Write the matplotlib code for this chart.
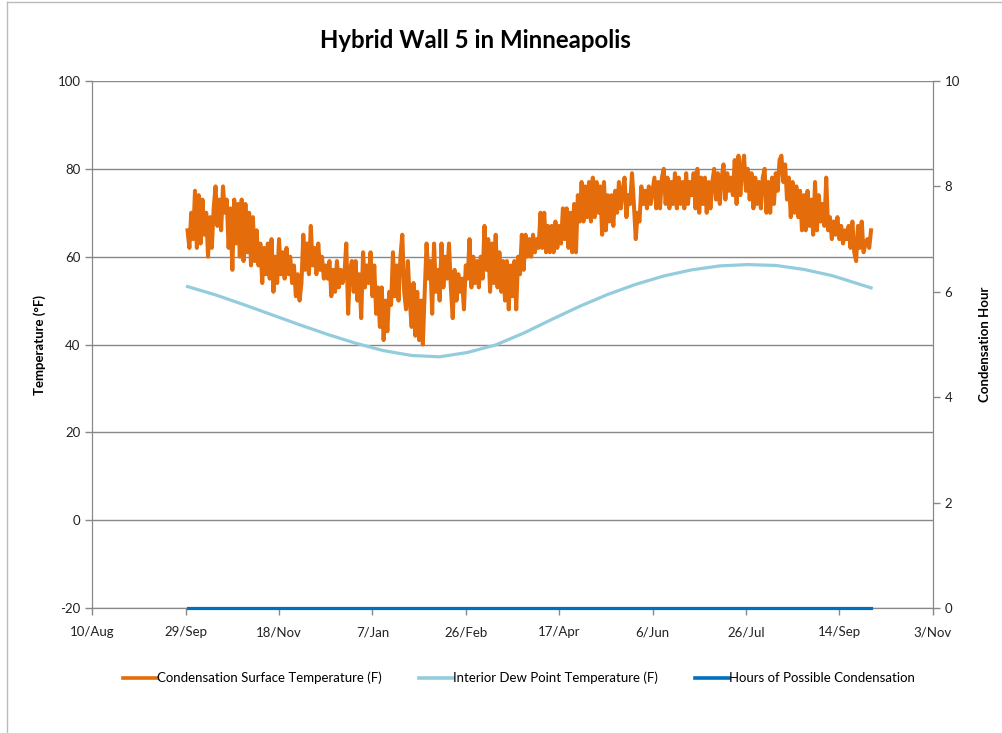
import matplotlib
matplotlib.use('Agg')
import matplotlib.pyplot as plt
import pandas as pd
from matplotlib.lines import Line2D

plt.rcParams['font.family'] = ['Lato', 'DejaVu Sans']
plt.rcParams['axes.unicode_minus'] = False

# daily readings, starting 30/Sep
start_day = '2010-09-30'
surface_temp = [
    66, 62, 70, 64, 75, 62, 74, 63, 73, 65,
    70, 60, 69, 62, 71, 76, 67, 73, 66, 76,
    70, 73, 62, 71, 57, 73, 63, 72, 60, 73,
    59, 72, 61, 70, 58, 69, 59, 66, 58, 63,
    54, 62, 56, 63, 55, 64, 52, 60, 54, 64,
    56, 61, 55, 62, 56, 60, 54, 58, 51, 56,
    50, 54, 65, 57, 63, 56, 67, 58, 62, 56,
    63, 57, 60, 55, 58, 55, 59, 51, 57, 52,
    59, 53, 57, 54, 56, 63, 47, 57, 59, 52,
    59, 50, 56, 46, 61, 53, 58, 54, 61, 51,
    58, 47, 53, 44, 53, 41, 50, 43, 52, 49,
    61, 51, 58, 50, 60, 65, 52, 48, 59, 50,
    44, 54, 42, 52, 41, 50, 40, 52, 63, 55,
    59, 47, 63, 52, 57, 50, 63, 53, 60, 55,
    63, 53, 46, 57, 50, 56, 52, 55, 48, 58,
    55, 64, 53, 60, 54, 59, 53, 60, 55, 67,
    57, 64, 52, 63, 54, 65, 53, 61, 52, 59,
    50, 59, 48, 58, 51, 59, 48, 60, 56, 65,
    57, 65, 60, 64, 60, 65, 61, 64, 62, 70,
    62, 70, 61, 67, 61, 67, 61, 68, 62, 67,
    63, 71, 64, 71, 62, 70, 61, 72, 61, 74,
    68, 77, 68, 76, 69, 77, 68, 78, 69, 77,
    70, 76, 65, 77, 66, 74, 68, 74, 67, 75,
    70, 77, 71, 75, 78, 69, 74, 72, 79, 72,
    64, 70, 68, 76, 72, 75, 71, 76, 72, 75,
    78, 71, 77, 71, 78, 80, 72, 78, 71, 77,
    72, 79, 71, 78, 72, 77, 71, 79, 72, 77,
    74, 79, 71, 80, 70, 78, 72, 78, 70, 77,
    71, 77, 80, 73, 79, 72, 78, 81, 73, 79,
    75, 78, 74, 82, 72, 83, 74, 80, 83, 75,
    80, 73, 79, 71, 78, 72, 77, 71, 78, 80,
    70, 77, 70, 78, 72, 79, 75, 82, 83, 77,
    81, 73, 78, 69, 77, 70, 76, 69, 75, 66,
    74, 66, 75, 67, 73, 65, 77, 66, 74, 68,
    72, 67, 78, 66, 69, 64, 68, 65, 69, 64,
    67, 63, 66, 64, 67, 62, 68, 61, 59, 67,
    62, 68, 61, 63, 64, 62, 66,
]

# dew point read every 15 days (last point at day 366)
dew_days = [0, 15, 30, 45, 60, 75, 90, 105, 120, 135, 150, 165, 180,
            195, 210, 225, 240, 255, 270, 285, 300, 315, 330, 345, 360, 366]
dew_temp = [53.2, 51.3, 49.1, 46.8, 44.5, 42.3, 40.3, 38.6, 37.5, 37.2, 38.2,
            39.9, 42.6, 45.7, 48.7, 51.4, 53.7, 55.6, 57.0, 57.9, 58.2, 58.0,
            57.1, 55.7, 53.7, 52.9]

cond_days = [0, 366]
cond_hours = [0, 0]

x_ticks = pd.date_range('2010-08-10', periods=10, freq='50D')

t0 = pd.Timestamp(start_day)
surf_x = [t0 + pd.Timedelta(days=i) for i in range(len(surface_temp))]
dew_x = [t0 + pd.Timedelta(days=d) for d in dew_days]
cond_x = [t0 + pd.Timedelta(days=d) for d in cond_days]

c_orange = '#E46C0A'
c_light = '#93CDDD'
c_blue = '#0070C0'
c_grid = '#888888'

fig = plt.figure(figsize=(10.03, 7.33), dpi=100)
ax = fig.add_axes([0.0920, 0.1705, 0.8379, 0.7190])
ax2 = ax.twinx()

ax.plot(surf_x, surface_temp, color=c_orange, lw=2.9, zorder=3)
ax.plot(dew_x, dew_temp, color=c_light, lw=2.3, zorder=4, solid_joinstyle='round')
ax2.plot(cond_x, cond_hours, color=c_blue, lw=2.3, zorder=5, clip_on=False)

ax.set_ylim(-20, 100)
ax.set_yticks(range(-20, 101, 20))
ax2.set_ylim(0, 10)
ax2.set_yticks(range(0, 11, 2))
ax.set_xlim(x_ticks[0], x_ticks[-1])
ax.set_xticks(x_ticks)
ax.set_xticklabels([f"{d.day}/{d.strftime('%b')}" for d in x_ticks])

ax.grid(axis='y', color=c_grid, lw=1)
ax.set_axisbelow(True)
for a in (ax, ax2):
    a.spines['top'].set_visible(False)
    for s in ('left', 'right', 'bottom'):
        a.spines[s].set_color(c_grid)
    a.tick_params(colors=c_grid, labelcolor='#222222', labelsize=9.5, length=5, width=1)
ax.tick_params(axis='x', pad=8)

ax.set_ylabel('Temperature (°F)', fontsize=9.5, fontweight='bold', labelpad=8)
ax2.set_ylabel('Condensation Hour', fontsize=9.5, fontweight='bold', labelpad=14)

fig.text(0.4736, 0.9454, 'Hybrid Wall 5 in Minneapolis', ha='center', va='center',
         fontsize=17.3, fontweight='bold')

handles = [Line2D([], [], color=c_orange, lw=2.6),
           Line2D([], [], color=c_light, lw=2.6),
           Line2D([], [], color=c_blue, lw=2.6)]
labels = ['Condensation Surface Temperature (F)', 'Interior Dew Point Temperature (F)',
          'Hours of Possible Condensation']
fig.legend(handles, labels, loc='center', bbox_to_anchor=(0.5175, 1 - 678 / 733), ncol=3,
           frameon=False, fontsize=9.5, handlelength=2.6, handletextpad=0.0,
           columnspacing=2.8)

# chart area border
fig.add_artist(Line2D([7 / 1003, 7 / 1003], [0, 1 - 2 / 733], transform=fig.transFigure,
                      color='#BBBBBB', lw=1))
fig.add_artist(Line2D([7 / 1003, 1], [1 - 2 / 733, 1 - 2 / 733], transform=fig.transFigure,
                      color='#BBBBBB', lw=1))

fig.savefig('out.png', dpi=100)
